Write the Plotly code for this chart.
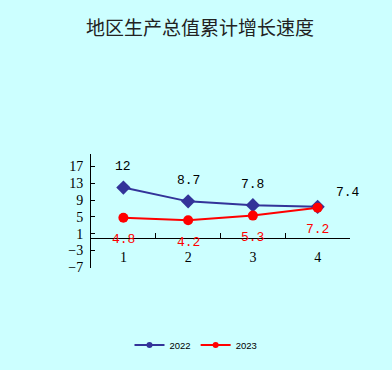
import plotly.graph_objects as go

categories = ["1", "2", "3", "4"]
values_2022 = [12, 8.7, 7.8, 7.4]
values_2023 = [4.8, 4.2, 5.3, 7.2]
labels_2022 = ["12", "8.7", "7.8", "7.4"]
labels_2023 = ["4.8", "4.2", "5.3", "7.2"]
y_ticks = [-7, -3, 1, 5, 9, 13, 17]
title = "地区生产总值累计增长速度"

BG = "#CCFFFF"
BLUE = "#333399"
RED = "#FF0000"
y_range = [-7.2, 20]

fig = go.Figure()
fig.add_trace(go.Scatter(
    x=categories, y=values_2022, name="2022", mode="lines+markers", showlegend=False,
    line=dict(color=BLUE, width=2),
    marker=dict(symbol="diamond", size=11, color=BLUE),
))
fig.add_trace(go.Scatter(
    x=categories, y=values_2023, name="2023", mode="lines+markers", showlegend=False,
    line=dict(color=RED, width=2),
    marker=dict(symbol="circle", size=10, color=RED),
))
# legend entries with small markers
fig.add_trace(go.Scatter(
    x=[None], y=[None], name="2022", mode="lines+markers",
    line=dict(color=BLUE, width=2), marker=dict(symbol="circle", size=6, color=BLUE),
))
fig.add_trace(go.Scatter(
    x=[None], y=[None], name="2023", mode="lines+markers",
    line=dict(color=RED, width=2), marker=dict(symbol="circle", size=6, color=RED),
))

annotations = []
for i, (v, t) in enumerate(zip(values_2022, labels_2022)):
    last = i == len(values_2022) - 1
    annotations.append(dict(
        x=i, y=v, xref="x", yref="y", text=t, showarrow=False,
        xshift=30 if last else 0, yshift=14 if last else 21,
        font=dict(family="Liberation Mono", size=13, color="#000000"),
    ))
for i, (v, t) in enumerate(zip(values_2023, labels_2023)):
    annotations.append(dict(
        x=i, y=v, xref="x", yref="y", text=t, showarrow=False,
        yshift=-22,
        font=dict(family="Liberation Mono", size=13, color=RED),
    ))

zero_pos = (0 - y_range[0]) / (y_range[1] - y_range[0])

fig.update_layout(
    width=392, height=370,
    paper_bgcolor=BG, plot_bgcolor=BG,
    margin=dict(l=91, r=42, t=154, b=102, autoexpand=False),
    title=dict(text=title, x=0.51, xanchor="center", y=1 - 28 / 370, yanchor="middle",
               font=dict(family="Noto Sans CJK SC", size=19, color="#222222")),
    showlegend=True,
    legend=dict(orientation="h", xref="container", yref="container",
                x=0.5, xanchor="center", y=1 - 345 / 370, yanchor="middle",
                font=dict(family="Liberation Sans", size=9.5, color="#000000"),
                bgcolor="rgba(0,0,0,0)", itemwidth=30),
    annotations=annotations,
    xaxis=dict(
        type="category", range=[-0.5, 3.5], showgrid=False, zeroline=False,
        showline=True, linecolor="#000000", linewidth=1,
        anchor="free", position=zero_pos,
        ticks="inside", ticklen=5, tickcolor="#000000", tickson="boundaries",
        tickfont=dict(family="Liberation Serif", size=14, color="#000000"),
        ticklabelstandoff=6,
    ),
    yaxis=dict(
        range=y_range, tickvals=y_ticks, ticktext=[str(v).replace("-", "−") for v in y_ticks],
        showgrid=False, zeroline=False,
        showline=True, linecolor="#000000", linewidth=1,
        ticks="inside", ticklen=4, tickcolor="#000000",
        tickfont=dict(family="Liberation Serif", size=14, color="#000000"),
        ticklabelstandoff=4,
    ),
)

fig.write_html(
    "out.html",
    config={"displayModeBar": False},
    post_script="document.body.style.margin='0';document.body.style.background='#CCFFFF';",
)
